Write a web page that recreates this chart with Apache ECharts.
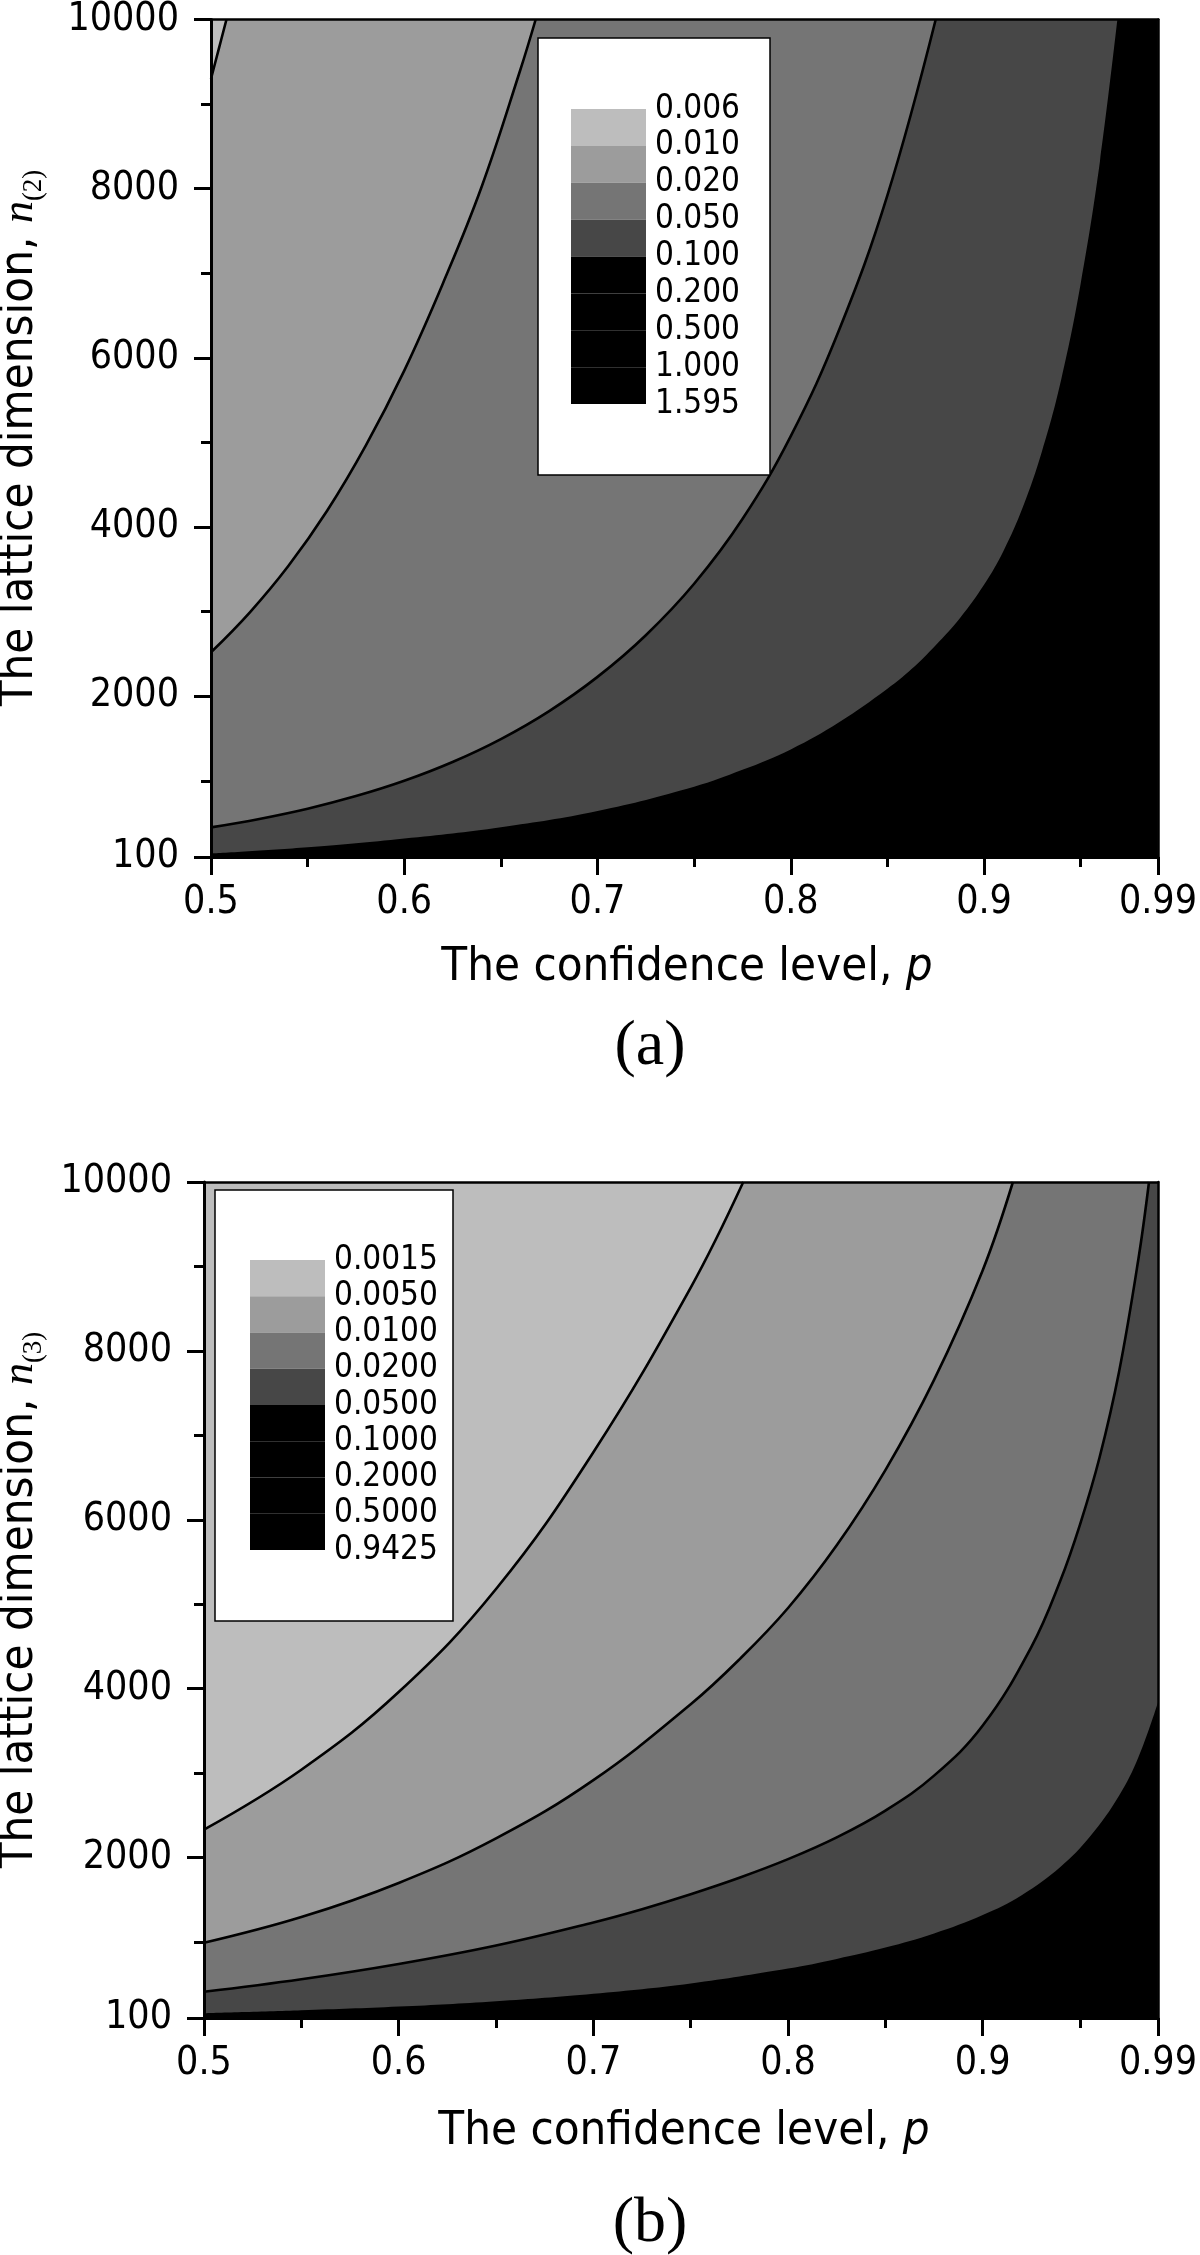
<!DOCTYPE html>
<html><head><meta charset="utf-8">
<script src="https://cdn.jsdelivr.net/npm/echarts@6/dist/echarts.min.js"></script>
<style>html,body{margin:0;padding:0;background:#fff}#c{width:1200px;height:2255px}</style>
</head><body><div id="c"></div>
<script>
// ---- axis ticks / labels ----
const xTicksMajor = [0.5, 0.6, 0.7, 0.8, 0.9, 0.99];
const xTicksMinor = [0.55, 0.65, 0.75, 0.85, 0.95];
const yTicksMajor = [100, 2000, 4000, 6000, 8000, 10000];
const yTicksMinor = [1000, 3000, 5000, 7000, 9000];

// ---- legend levels ----
const levelsA = ['0.006', '0.010', '0.020', '0.050', '0.100', '0.200', '0.500', '1.000', '1.595'];
const levelsB = ['0.0015', '0.0050', '0.0100', '0.0200', '0.0500', '0.1000', '0.2000', '0.5000', '0.9425'];
const bandColors = ['#bdbdbd', '#9c9c9c', '#757575', '#474747', '#000000', '#000000', '#000000', '#000000'];

// ---- contour boundaries, panel (a): [p, n] ----
const a_lvl010 = [[0.5, 9300], [0.504, 9650], [0.508, 10000]];
const a_lvl020 = [[0.5, 2520], [0.52, 2990], [0.54, 3540], [0.56, 4190], [0.58, 4960], [0.6, 5850], [0.62, 6880], [0.64, 8020], [0.66, 9400], [0.668, 10000]];
const a_lvl050 = [[0.5, 450], [0.525, 550], [0.55, 671], [0.575, 820], [0.6, 1001], [0.625, 1223], [0.65, 1494], [0.675, 1825], [0.7, 2229], [0.725, 2722], [0.75, 3330], [0.775, 4095], [0.8, 5075], [0.825, 6329], [0.85, 7922], [0.875, 10000]];
const a_lvl100 = [[0.5, 140], [0.55, 214], [0.6, 319], [0.65, 453], [0.7, 644], [0.75, 931], [0.775, 1130], [0.8, 1372], [0.825, 1692], [0.85, 2088], [0.8625, 2321], [0.875, 2603], [0.8875, 2923], [0.9, 3318], [0.91, 3715], [0.92, 4230], [0.93, 4895], [0.94, 5750], [0.95, 6877], [0.96, 8324], [0.969, 10000]];

// ---- contour boundaries, panel (b): [p, n] ----
const b_lvl0050 = [[0.5, 2330], [0.55, 3040], [0.6, 3960], [0.65, 5180], [0.7, 6800], [0.75, 8750], [0.777, 10000]];
const b_lvl0100 = [[0.5, 990], [0.55, 1295], [0.6, 1699], [0.65, 2227], [0.7, 2917], [0.75, 3815], [0.775, 4346], [0.8, 4955], [0.825, 5697], [0.85, 6588], [0.875, 7656], [0.9, 8956], [0.9155, 10000]];
const b_lvl0200 = [[0.5, 410], [0.55, 559], [0.6, 740], [0.65, 959], [0.7, 1232], [0.725, 1389], [0.75, 1566], [0.775, 1761], [0.8, 1981], [0.825, 2239], [0.85, 2556], [0.875, 2970], [0.9, 3563], [0.925, 4496], [0.94, 5287], [0.95, 5946], [0.96, 6737], [0.97, 7750], [0.98, 9094], [0.9854, 10000]];
const b_lvl0500 = [[0.5, 156], [0.55, 191], [0.6, 235], [0.65, 299], [0.7, 388], [0.75, 510], [0.8, 686], [0.825, 800], [0.85, 934], [0.875, 1101], [0.9, 1319], [0.92, 1554], [0.94, 1891], [0.955, 2246], [0.97, 2731], [0.98, 3190], [0.99, 3837]];

const FONT = "'DejaVu Sans Condensed', 'DejaVu Sans', sans-serif";
const SERIF = "'Liberation Serif', 'Times New Roman', serif";

function plotAxes(gridIndex) {
  const base = { gridIndex, type: 'value', z: 40, splitLine: { show: false } };
  const xs = [
    Object.assign({}, base, {
      min: 0.5, max: 0.99, position: 'bottom',
      axisLine: { show: true, onZero: false, lineStyle: { color: '#000', width: 3 } },
      axisTick: { show: true, customValues: xTicksMajor, length: 18, lineStyle: { color: '#000', width: 3 } },
      axisLabel: { show: true, customValues: xTicksMajor, formatter: v => String(v), margin: 26, fontSize: 39, fontFamily: FONT, color: '#000' }
    }),
    Object.assign({}, base, {
      min: 0.5, max: 0.99, position: 'bottom',
      axisLine: { show: false },
      axisTick: { show: true, customValues: xTicksMinor, length: 10, lineStyle: { color: '#000', width: 3 } },
      axisLabel: { show: false }
    }),
    Object.assign({}, base, {
      min: 0.5, max: 0.99, position: 'top',
      axisLine: { show: true, onZero: false, lineStyle: { color: '#000', width: 2.5 } },
      axisTick: { show: false }, axisLabel: { show: false }
    })
  ];
  const ys = [
    Object.assign({}, base, {
      min: 100, max: 10000, position: 'left',
      axisLine: { show: true, onZero: false, lineStyle: { color: '#000', width: 3 } },
      axisTick: { show: true, customValues: yTicksMajor, length: 17, lineStyle: { color: '#000', width: 3 } },
      axisLabel: { show: true, customValues: yTicksMajor, formatter: v => String(v), margin: 32, fontSize: 39, fontFamily: FONT, color: '#000' }
    }),
    Object.assign({}, base, {
      min: 100, max: 10000, position: 'left',
      axisLine: { show: false },
      axisTick: { show: true, customValues: yTicksMinor, length: 10, lineStyle: { color: '#000', width: 3 } },
      axisLabel: { show: false }
    }),
    Object.assign({}, base, {
      min: 100, max: 10000, position: 'right',
      axisLine: { show: true, onZero: false, lineStyle: { color: '#000', width: 2.5 } },
      axisTick: { show: false }, axisLabel: { show: false }
    })
  ];
  return { xs, ys };
}

function legendAxes(gridIndex, labels) {
  return {
    x: { gridIndex, type: 'category', data: [''], show: false },
    y: {
      gridIndex, type: 'value', min: 0, max: 8, interval: 1, inverse: true, position: 'right', z: 60,
      axisLine: { show: false }, axisTick: { show: false }, splitLine: { show: false },
      axisLabel: { margin: 9, fontSize: 33, fontFamily: FONT, color: '#000', formatter: v => labels[v] }
    }
  };
}

const pa = plotAxes(0), la = legendAxes(1, levelsA), pb = plotAxes(2), lb = legendAxes(3, levelsB);
const xAxis = [...pa.xs, la.x, ...pb.xs, lb.x];
const yAxis = [...pa.ys, la.y, ...pb.ys, lb.y];

function contour(data, fill, drawLine, axisIdx) {
  return {
    type: 'line', data, xAxisIndex: axisIdx, yAxisIndex: axisIdx,
    symbol: 'none', smooth: 0.4, silent: true, z: 2,
    lineStyle: { color: '#000', width: drawLine ? 2.6 : 0, opacity: drawLine ? 1 : 0 },
    areaStyle: { color: fill, opacity: 1, origin: 'end' }
  };
}

function legendBars(axisIdx) {
  return bandColors.map(c => ({
    type: 'bar', xAxisIndex: axisIdx, yAxisIndex: axisIdx, stack: 'lg' + axisIdx, data: [1],
    barWidth: '100%', itemStyle: { color: c }, silent: true, z: 60
  }));
}

const series = [
  contour(a_lvl100, bandColors[3], false, 0),
  contour(a_lvl050, bandColors[2], true, 0),
  contour(a_lvl020, bandColors[1], true, 0),
  contour(a_lvl010, bandColors[0], true, 0),
  ...legendBars(3),
  contour(b_lvl0500, bandColors[3], false, 4),
  contour(b_lvl0200, bandColors[2], true, 4),
  contour(b_lvl0100, bandColors[1], true, 4),
  contour(b_lvl0050, bandColors[0], true, 4),
  ...legendBars(7)
];

function yTitle(x, y, sub) {
  return {
    type: 'text', x, y, rotation: Math.PI / 2, z: 50,
    style: {
      text: '{t|The lattice dimension, }{n|n}{s|' + sub + '}',
      align: 'center', verticalAlign: 'middle',
      rich: {
        t: { fontSize: 47, fontFamily: FONT, fill: '#000' },
        n: { fontSize: 44, fontFamily: SERIF, fontStyle: 'italic', fill: '#000' },
        s: { fontSize: 27, fontFamily: SERIF, fill: '#000', padding: [28, 0, 0, 0] }
      }
    }
  };
}
function xTitle(x, y) {
  return {
    type: 'text', x, y, z: 50,
    style: {
      text: '{t|The confidence level, }{p|p}', align: 'center', verticalAlign: 'middle',
      rich: {
        t: { fontSize: 47, fontFamily: FONT, fill: '#000' },
        p: { fontSize: 47, fontFamily: FONT, fontStyle: 'italic', fill: '#000' }
      }
    }
  };
}
function panelLabel(x, y, t) {
  return { type: 'text', x, y, z: 50, style: { text: t, font: '64px ' + SERIF, fill: '#000', align: 'center', verticalAlign: 'middle' } };
}

const graphic = [
  { type: 'rect', z: 50, shape: { x: 538, y: 38, width: 232, height: 437 }, style: { fill: '#fff', stroke: '#000', lineWidth: 1.5 } },
  { type: 'rect', z: 50, shape: { x: 215, y: 1190, width: 238, height: 431 }, style: { fill: '#fff', stroke: '#000', lineWidth: 1.5 } },
  yTitle(20, 438, '(2)'),
  yTitle(20, 1600, '(3)'),
  xTitle(687, 968),
  xTitle(684, 2132),
  panelLabel(650, 1047, '(a)'),
  panelLabel(650, 2224, '(b)')
];

const chart = echarts.init(document.getElementById('c'), null, { renderer: 'canvas' });
chart.setOption({
  animation: false,
  backgroundColor: '#fff',
  grid: [
    { left: 211, top: 19, width: 952, height: 838, show: true, backgroundColor: '#000', borderWidth: 0 },
    { left: 571, top: 109, width: 75, height: 295 },
    { left: 204, top: 1182, width: 959, height: 836, show: true, backgroundColor: '#000', borderWidth: 0 },
    { left: 250, top: 1260, width: 75, height: 290 }
  ],
  xAxis, yAxis, series, graphic
});
</script>
</body></html>
